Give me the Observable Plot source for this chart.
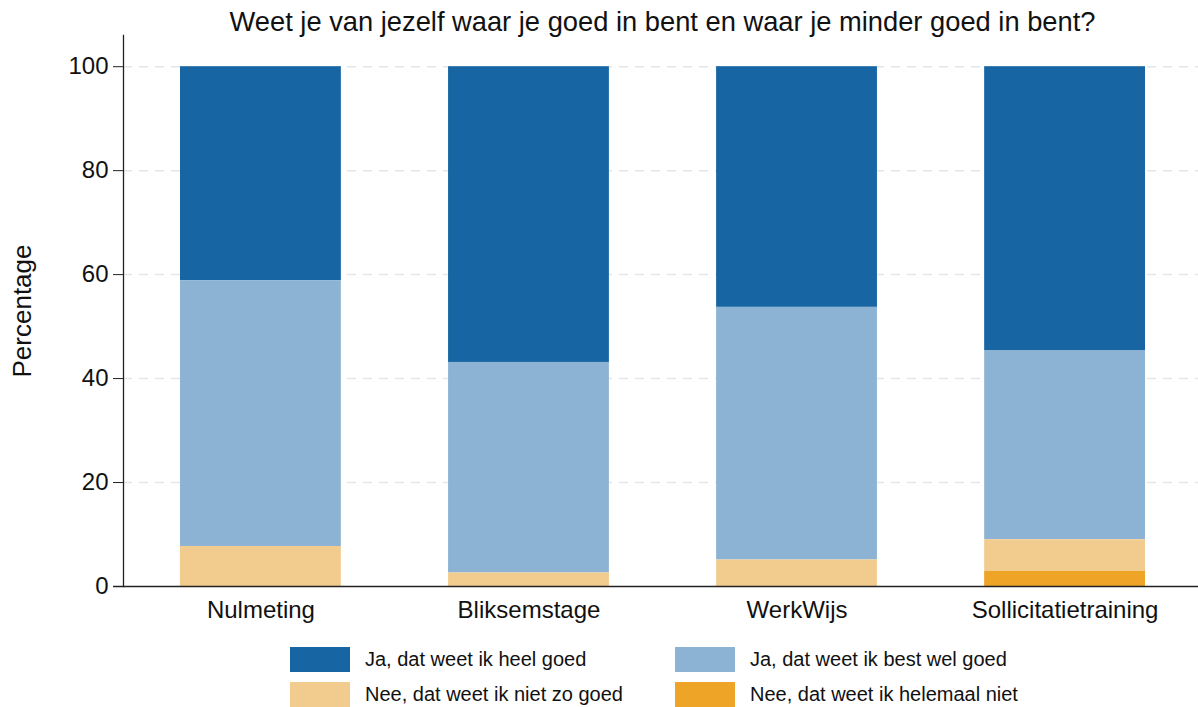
<!DOCTYPE html>
<html><head><meta charset="utf-8">
<script src="https://cdn.jsdelivr.net/npm/d3@7"></script>
<script src="https://cdn.jsdelivr.net/npm/@observablehq/plot@0.6"></script>
<style>
body{margin:0;background:#fff;font-family:"Liberation Sans",Arial,sans-serif;}
#legend{position:relative;width:1198px;height:72px;}
.item{position:absolute;display:flex;align-items:center;font-size:20px;color:#111;white-space:nowrap;}
.sw{width:60px;height:25px;margin-right:15px;flex:none;}
</style></head>
<body>
<div id="chart"></div>
<div id="legend"></div>
<script>
const title = "Weet je van jezelf waar je goed in bent en waar je minder goed in bent?";
const categories = ["Nulmeting", "Bliksemstage", "WerkWijs", "Sollicitatietraining"];
const seriesNames = ["Ja, dat weet ik heel goed", "Ja, dat weet ik best wel goed", "Nee, dat weet ik niet zo goed", "Nee, dat weet ik helemaal niet"];
const heelGoed = [41.2, 56.9, 46.3, 54.6];
const bestWelGoed = [51.1, 40.5, 48.6, 36.4];
const nietZoGoed = [7.7, 2.6, 5.1, 6.1];
const helemaalNiet = [0, 0, 0, 2.9];
const colors = ["#1765a3", "#8db3d4", "#f2cc8f", "#eea427"];
const yTicks = [0, 20, 40, 60, 80, 100];

const seriesValues = [heelGoed, bestWelGoed, nietZoGoed, helemaalNiet];
const data = [];
categories.forEach((c, i) => seriesValues.forEach((vals, s) => data.push({cat: c, series: seriesNames[s], value: vals[i]})));
const stackOrder = [seriesNames[3], seriesNames[2], seriesNames[1], seriesNames[0]];

const plot = Plot.plot({
  width: 1198, height: 635,
  marginLeft: 123, marginRight: 0, marginTop: 35, marginBottom: 49,
  style: {fontFamily: "Liberation Sans, Arial, sans-serif", color: "#111", background: "#fff"},
  x: {domain: categories, range: [123, 1202], round: false, paddingInner: 0.4, paddingOuter: 0.2127, label: null},
  y: {domain: [0, 106], label: null},
  color: {domain: seriesNames, range: colors},
  marks: [
    Plot.gridY(yTicks.filter(d => d > 0), {stroke: "#e6e6e6", strokeOpacity: 1, strokeWidth: 1.5, strokeDasharray: "9,7"}),
    Plot.barY(data, {x: "cat", y: "value", fill: "series", order: stackOrder}),
    Plot.axisY({ticks: yTicks, tickSize: 10, tickPadding: 5, fontSize: 24, label: null, stroke: "#222"}),
    Plot.axisX({tickSize: 0, tickPadding: 14, fontSize: 24, label: null}),
    Plot.frame({anchor: "left", stroke: "#222", strokeWidth: 1.3}),
    Plot.ruleY([0], {stroke: "#222", strokeWidth: 1.3, insetLeft: -10}),
    Plot.text([title], {frameAnchor: "top-left", dx: 662 - 123, dy: -13, fontSize: 27.3, textAnchor: "middle", lineAnchor: "middle", fill: "#111"}),
    Plot.text(["Percentage"], {frameAnchor: "left", dx: -101, rotate: -90, fontSize: 26, fill: "#111", textAnchor: "middle", lineAnchor: "middle"})
  ]
});
document.getElementById("chart").appendChild(plot);

const legend = document.getElementById("legend");
const pos = [[290, 24], [675, 24], [290, 59], [675, 59]];
seriesNames.forEach((n, i) => {
  const d = document.createElement("div");
  d.className = "item";
  d.style.left = pos[i][0] + "px";
  d.style.top = (pos[i][1] - 12.5) + "px";
  d.innerHTML = `<div class="sw" style="background:${colors[i]}"></div><span>${n}</span>`;
  legend.appendChild(d);
});
</script>
</body></html>
